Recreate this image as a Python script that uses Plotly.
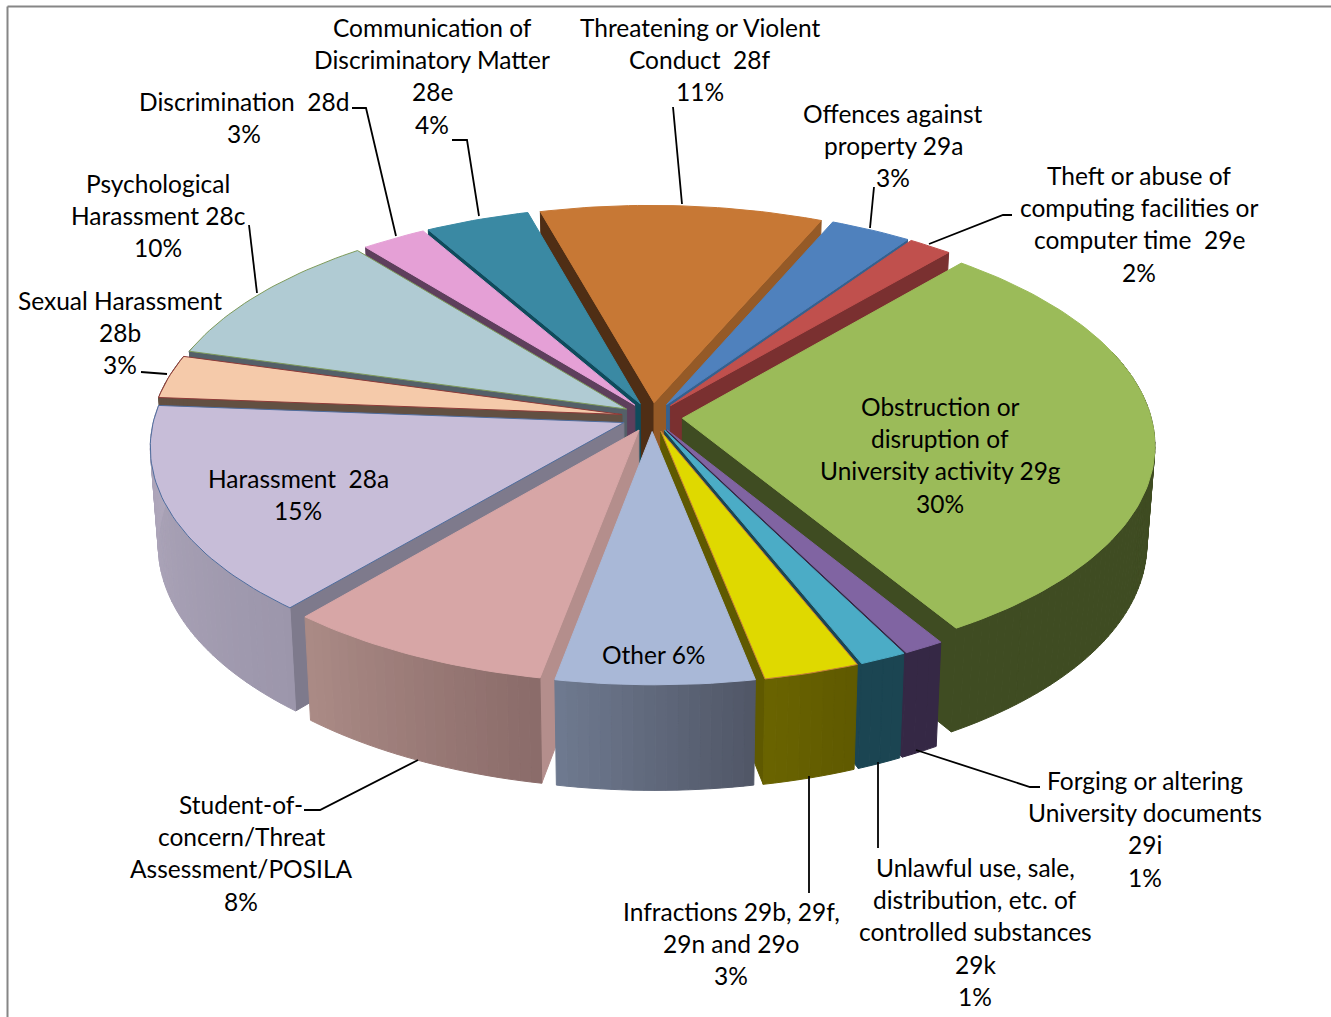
import math
import plotly.graph_objects as go

# ---- data (clockwise from the start angle) ----
categories = ["Obstruction or disruption of University activity 29g",
              "Forging or altering University documents 29i",
              "Unlawful use, sale, distribution, etc. of controlled substances 29k",
              "Infractions 29b, 29f, 29n and 29o", "Other",
              "Student-of-concern/Threat Assessment/POSILA", "Harassment 28a",
              "Sexual Harassment 28b", "Psychological Harassment 28c",
              "Discrimination 28d", "Communication of Discriminatory Matter 28e",
              "Threatening or Violent Conduct 28f", "Offences against property 29a",
              "Theft or abuse of computing facilities or computer time 29e"]
values = [30.0, 1.25, 1.44, 2.94, 6.06, 8.22, 14.97, 3.12, 9.91, 2.5, 4.0, 10.81, 3.11, 1.67]

# ---- styles ----
top_colors = ["#9BBB59", "#8064A2", "#4BACC6", "#DFD900", "#A9B8D7", "#D7A6A6", "#C7BDD8",
              "#F5CAAA", "#B0CBD3", "#E5A0D6", "#3A89A3", "#C77835", "#4F81BD", "#C0504D"]
arc_right = ["#3F4C22", "#352845", "#1B4552", "#5F5900", "#505666", "#8A6B69", "#9C96AB",
             "#625042", "#546068", "#5E3F5C", "#0F4B5C", "#4F2E15", "#35618F", "#7A3030"]
arc_left = ["#3F4C22", "#352845", "#1B4552", "#6A6400", "#6F7A90", "#AB8B86", "#B0A8BC",
            "#625042", "#546068", "#5E3F5C", "#0F4B5C", "#4F2E15", "#35618F", "#7A3030"]
wall_start = ["#3F4C22", "#352845", "#1B4552", "#5F5900", "#505666", "#B48E8C", "#7E7A8C",
              "#625042", "#546068", "#5E3F5C", "#0F4B5C", "#4F2E15", "#35618F", "#7A3030"]
wall_end = ["#3F4C22", "#352845", "#1B4552", "#5F5900", "#505666", "#B48E8C", "#7E7A8C",
            "#625042", "#546068", "#5E3F5C", "#0F4B5C", "#955A27", "#35618F", "#7A3030"]
edge_colors = [None, None, None, "#C9803A", None, None, "#4F6D9E", "#8E3A38", "#7D9A5A",
               None, None, None, None, None]

START = 40.5
CX, CY, RX, RY = 652.0, 417.0, 469.0, 222.0
EXPLODE, PERSP, DEPTH, SHRINK, SHEAR = 0.065, 0.11, 97.0, 0.016, 0.003


def project(u, v, z=0.0):
    s = 1.0 / (1.0 - PERSP * v)
    k = 1.0 - SHRINK * z
    return (CX + RX * u * s * k,
            CY + RY * v * s * k + DEPTH * s * z + SHEAR * RX * u * s * k)


def hex2rgb(h):
    return [int(h[i:i + 2], 16) for i in (1, 3, 5)]


def mix(a, b, t):
    ca, cb = hex2rgb(a), hex2rgb(b)
    return "rgb(%d,%d,%d)" % tuple(round(x + (y - x) * t) for x, y in zip(ca, cb))


def poly(fig, pts, fill, line=None, lw=1.0):
    xs = [p[0] for p in pts] + [pts[0][0]]
    ys = [p[1] for p in pts] + [pts[0][1]]
    fig.add_trace(go.Scatter(x=xs, y=ys, mode="lines", fill="toself", fillcolor=fill,
                             line=dict(color=line or fill, width=lw), hoverinfo="skip",
                             showlegend=False))


fig = go.Figure()
total = sum(values)
slices, a = [], START
for i, val in enumerate(values):
    b = a + val / total * 360.0
    slices.append((i, a, b))
    a = b


def mid_v(sl):
    m = math.radians((sl[1] + sl[2]) / 2)
    return -math.cos(m)


for i, a, b in sorted(slices, key=mid_v):
    m = math.radians((a + b) / 2)
    ou, ov = EXPLODE * math.sin(m), -EXPLODE * math.cos(m)
    n = max(2, int((b - a) / 1.2))
    thetas = [math.radians(a + (b - a) * j / n) for j in range(n + 1)]
    rim = [(ou + math.sin(t), ov - math.cos(t)) for t in thetas]
    ra, rb = math.radians(a), math.radians(b)
    # radial walls that face the viewer
    if -math.sin(ra) > 0:
        poly(fig, [project(ou, ov), project(*rim[0]), project(*rim[0], 1), project(ou, ov, 1)],
             wall_start[i])
    if math.sin(rb) > 0:
        poly(fig, [project(ou, ov), project(*rim[-1]), project(*rim[-1], 1), project(ou, ov, 1)],
             wall_end[i])
    # outer wall, in small shaded pieces
    for j in range(n):
        if rim[j][1] < -0.3 and rim[j + 1][1] < -0.3:
            continue
        c = mix(arc_right[i], arc_left[i], (j + 0.5) / n)
        poly(fig, [project(*rim[j]), project(*rim[j + 1]), project(*rim[j + 1], 1), project(*rim[j], 1)], c)
    # top face
    poly(fig, [project(ou, ov)] + [project(*p) for p in rim], top_colors[i],
         line=edge_colors[i], lw=1.0)

# ---- leader lines ----
leaders = [[(352, 108), (366, 108), (396, 236)], [(452, 140), (467, 140), (479, 216)],
           [(673, 107), (682, 204)], [(874, 187), (870, 228)],
           [(1012, 215), (1003, 215), (929, 244)], [(249, 225), (257, 293)],
           [(141, 372), (167, 374)], [(304, 810), (320, 810), (418, 760)],
           [(809, 776), (809, 893)], [(878, 762), (878, 848)],
           [(1040, 787), (1030, 787), (916, 750)]]
for ld in leaders:
    fig.add_trace(go.Scatter(x=[p[0] for p in ld], y=[p[1] for p in ld], mode="lines",
                             line=dict(color="#000000", width=1.8), hoverinfo="skip",
                             showlegend=False))

# ---- labels ----
labels = [
    (432, 27, ["Communication of", "Discriminatory Matter", "28e", "4%"]),
    (700, 27, ["Threatening or Violent", "Conduct  28f", "11%"]),
    (244, 101, ["Discrimination  28d", "3%"]),
    (893, 113, ["Offences against", "property 29a", "3%"]),
    (1139, 175, ["Theft or abuse of", "computing facilities or", "computer time  29e", "2%"]),
    (158, 183, ["Psychological", "Harassment 28c", "10%"]),
    (120, 300, ["Sexual Harassment", "28b", "3%"]),
    (298, 478, ["Harassment  28a", "15%"]),
    (940, 406, ["Obstruction or", "disruption of", "University activity 29g", "30%"]),
    (653, 654, ["Other 6%"]),
    (241, 804, ["Student-of-", "concern/Threat", "Assessment/POSILA", "8%"]),
    (731, 911, ["Infractions 29b, 29f,", "29n and 29o", "3%"]),
    (975, 867, ["Unlawful use, sale,", "distribution, etc. of", "controlled substances", "29k", "1%"]),
    (1145, 780, ["Forging or altering", "University documents", "29i", "1%"]),
]
LINE_STEP = 32.4
for x, y, lines in labels:
    for k, line in enumerate(lines):
        fig.add_annotation(x=x, y=y + k * LINE_STEP, text=line, showarrow=False,
                           xanchor="center", yanchor="middle", xref="x", yref="y",
                           font=dict(family="Lato", size=24.5, color="#000000"))

# ---- frame (top and left edge of the picture) ----
fig.add_shape(type="line", x0=7.5, x1=7.5, y0=6.5, y1=1017, line=dict(color="#868686", width=2))
fig.add_shape(type="line", x0=7.5, x1=1331, y0=6.5, y1=6.5, line=dict(color="#868686", width=2))

fig.update_layout(width=1331, height=1017, margin=dict(l=0, r=0, t=0, b=0),
                  paper_bgcolor="#FFFFFF", plot_bgcolor="#FFFFFF", showlegend=False,
                  xaxis=dict(range=[0, 1331], visible=False, fixedrange=True),
                  yaxis=dict(range=[1017, 0], visible=False, fixedrange=True))
fig.write_html("out.html", config=dict(displayModeBar=False),
               post_script="document.body.style.margin='0';document.body.style.overflow='hidden';")
